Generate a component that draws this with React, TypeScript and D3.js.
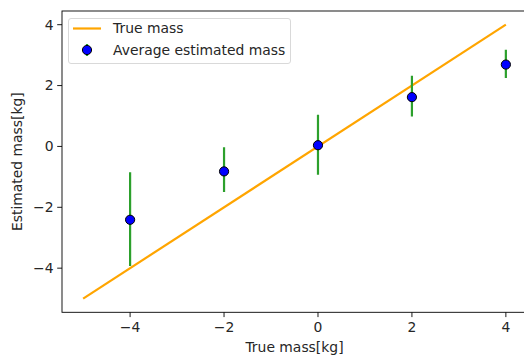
import React from "react";
import * as d3 from "d3";

const lineX = [-5, 4];
const lineY = [-5, 4];
const pointX = [-4, -2, 0, 2, 4];
const pointY = [-2.41, -0.82, 0.04, 1.62, 2.69];
const errLow = [-3.93, -1.5, -0.93, 0.98, 2.25];
const errHigh = [-0.85, -0.03, 1.04, 2.32, 3.18];
const xTicks = [-4, -2, 0, 2, 4];
const yTicks = [-4, -2, 0, 2, 4];

const W = 524;
const H = 358;
const left = 62;
const right = 527;
const top = 11;
const bottom = 312.3;
const font = "DejaVu Sans, sans-serif";
const fs = 13.9;

export default function App() {
  const x = d3.scaleLinear().domain([-5.45, 4.45]).range([left, right]);
  const y = d3.scaleLinear().domain([-5.45, 4.45]).range([bottom, top]);
  const line = d3
    .line<number>()
    .x((_, i) => x(lineX[i]))
    .y((d) => y(d));
  return (
    <svg
      width={W}
      height={H}
      style={{ position: "absolute", left: 0, top: 0, background: "#fff" }}
    >
      <defs>
        <clipPath id="clip">
          <rect x={left} y={top} width={right - left} height={bottom - top} />
        </clipPath>
      </defs>
      <g clipPath="url(#clip)">
        <path d={line(lineY) || ""} fill="none" stroke="#ffa500" strokeWidth={2.2} />
        {pointX.map((px, i) => (
          <line
            key={"e" + i}
            x1={x(px)}
            x2={x(px)}
            y1={y(errLow[i])}
            y2={y(errHigh[i])}
            stroke="#2ca02c"
            strokeWidth={2.2}
          />
        ))}
        {pointX.map((px, i) => (
          <circle
            key={"p" + i}
            cx={x(px)}
            cy={y(pointY[i])}
            r={4.6}
            fill="#0000ff"
            stroke="#000"
            strokeWidth={1}
          />
        ))}
      </g>
      <rect
        x={left}
        y={top}
        width={right - left}
        height={bottom - top}
        fill="none"
        stroke="#000"
        strokeWidth={0.9}
      />
      {xTicks.map((t) => (
        <g key={"xt" + t}>
          <line x1={x(t)} x2={x(t)} y1={bottom} y2={bottom + 4.8} stroke="#000" strokeWidth={0.9} />
          <text
            x={x(t)}
            y={bottom + 19.5}
            textAnchor="middle"
            fontFamily={font}
            fontSize={fs}
            fill="#262626"
          >
            {t < 0 ? "\u2212" + Math.abs(t) : t}
          </text>
        </g>
      ))}
      {yTicks.map((t) => (
        <g key={"yt" + t}>
          <line x1={left - 4.8} x2={left} y1={y(t)} y2={y(t)} stroke="#000" strokeWidth={0.9} />
          <text
            x={left - 8.5}
            y={y(t)}
            dy="0.35em"
            textAnchor="end"
            fontFamily={font}
            fontSize={fs}
            fill="#262626"
          >
            {t < 0 ? "\u2212" + Math.abs(t) : t}
          </text>
        </g>
      ))}
      <text
        x={(left + right) / 2}
        y={352}
        textAnchor="middle"
        fontFamily={font}
        fontSize={fs}
        fill="#262626"
      >
        True mass[kg]
      </text>
      <text
        transform={`translate(22,${(top + bottom) / 2}) rotate(-90)`}
        textAnchor="middle"
        fontFamily={font}
        fontSize={fs}
        fill="#262626"
      >
        Estimated mass[kg]
      </text>
      <rect
        x={68.5}
        y={18.5}
        width={222}
        height={45}
        rx={2.5}
        fill="#fff"
        fillOpacity={0.8}
        stroke="#d9d9d9"
        strokeWidth={1}
      />
      <line x1={73} x2={101} y1={28.5} y2={28.5} stroke="#ffa500" strokeWidth={2.2} />
      <text x={113} y={28.5} dy="0.35em" fontFamily={font} fontSize={fs} fill="#262626">
        True mass
      </text>
      <line x1={87} x2={87} y1={44} y2={56} stroke="#2ca02c" strokeWidth={2.2} />
      <circle cx={87} cy={50} r={4.6} fill="#0000ff" stroke="#000" strokeWidth={1} />
      <text x={113} y={50} dy="0.35em" fontFamily={font} fontSize={fs} fill="#262626">
        Average estimated mass
      </text>
    </svg>
  );
}
